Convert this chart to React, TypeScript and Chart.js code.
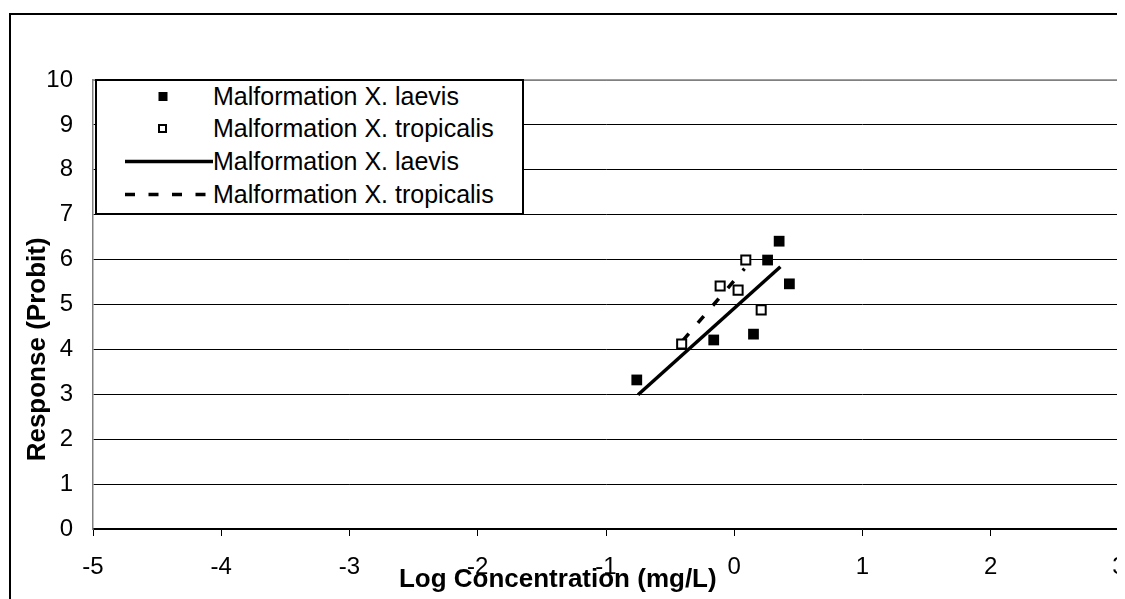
import React, { useEffect, useRef } from 'react';
import { Chart, registerables } from 'chart.js';
Chart.register(...registerables);

// Observed points
const laevisX = [-0.76, -0.16, 0.15, 0.26, 0.35, 0.43];
const laevisY = [3.32, 4.21, 4.34, 5.99, 6.41, 5.46];
const tropX = [-0.41, -0.11, 0.03, 0.09, 0.21];
const tropY = [4.12, 5.41, 5.32, 5.99, 4.88];
// Fitted probit lines (end points)
const laevisFitX = [-0.75, 0.36];
const laevisFitY = [2.99, 5.84];
const tropFitX = [-0.4, 0.08];
const tropFitY = [4.2, 5.8];

const seriesLabels = [
  'Malformation X. laevis',
  'Malformation X. tropicalis',
  'Malformation X. laevis',
  'Malformation X. tropicalis',
];
const xTitle = 'Log Concentration (mg/L)';
const yTitle = 'Response (Probit)';
const xRange = [-5, 3];
const yRange = [0, 10];

const FONT = '"Liberation Sans", Arial, sans-serif';

const pts = (xs: number[], ys: number[]) => xs.map((x, i) => ({ x, y: ys[i] }));

export default function App() {
  const ref = useRef<HTMLCanvasElement>(null);

  useEffect(() => {
    if (!ref.current) return;
    const framePlugin = {
      id: 'frame',
      beforeDatasetsDraw(chart: any) {
        const { ctx, chartArea: a } = chart;
        ctx.save();
        ctx.strokeStyle = '#808080';
        ctx.lineWidth = 1.5;
        ctx.beginPath();
        ctx.moveTo(a.left, a.top);
        ctx.lineTo(a.right, a.top);
        ctx.lineTo(a.right, a.bottom);
        ctx.stroke();
        ctx.restore();
      },
      afterDraw(chart: any) {
        const { ctx, chartArea: a } = chart;
        ctx.save();
        ctx.fillStyle = '#000';
        ctx.font = `bold 26px ${FONT}`;
        ctx.textAlign = 'center';
        ctx.textBaseline = 'middle';
        ctx.fillText(xTitle, a.left + 0.453 * (a.right - a.left), a.bottom + 51);
        ctx.translate(27, a.top + 0.6 * (a.bottom - a.top));
        ctx.rotate(-Math.PI / 2);
        ctx.fillText(yTitle, 0, 0);
        ctx.restore();
      },
    };

    const chart = new Chart(ref.current, {
      type: 'scatter',
      data: {
        datasets: [
          {
            label: seriesLabels[0],
            data: pts(laevisX, laevisY),
            pointStyle: 'rect',
            pointRadius: 7.6,
            backgroundColor: '#000',
            borderColor: '#000',
            borderWidth: 0,
            showLine: false,
            order: 0,
          },
          {
            label: seriesLabels[1],
            data: pts(tropX, tropY),
            pointStyle: 'rect',
            pointRadius: 6.4,
            backgroundColor: '#fff',
            borderColor: '#000',
            borderWidth: 2,
            showLine: false,
            order: 0,
          },
          {
            label: seriesLabels[2],
            data: pts(laevisFitX, laevisFitY),
            showLine: true,
            pointRadius: 0,
            borderColor: '#000',
            borderWidth: 3.5,
            order: 1,
          },
          {
            label: seriesLabels[3],
            data: pts(tropFitX, tropFitY),
            showLine: true,
            pointRadius: 0,
            borderColor: '#000',
            borderWidth: 3.5,
            borderDash: [9, 14],
            order: 1,
          },
        ],
      } as any,
      options: {
        animation: false,
        responsive: false,
        events: [],
        layout: { padding: { top: 65, right: 42, left: 0, bottom: 0 } },
        plugins: { legend: { display: false }, tooltip: { enabled: false } },
        scales: {
          x: {
            type: 'linear',
            min: xRange[0],
            max: xRange[1],
            ticks: {
              stepSize: 1,
              color: '#000',
              font: { family: FONT, size: 24 },
              padding: 17,
              maxRotation: 0,
              autoSkip: false,
            },
            grid: { drawOnChartArea: false, drawTicks: true, tickLength: 7, color: '#000' },
            border: { color: '#000', width: 1.5 },
            afterFit(s: any) {
              s.height = 106;
            },
          },
          y: {
            type: 'linear',
            min: yRange[0],
            max: yRange[1],
            ticks: {
              stepSize: 1,
              color: '#000',
              font: { family: FONT, size: 24 },
              padding: 20,
            },
            grid: {
              color: (c: any) => (c.tick && c.tick.value === yRange[1] ? '#808080' : '#000'),
              drawTicks: false,
              lineWidth: 1,
            },
            border: { color: '#808080', width: 1.5 },
            afterFit(s: any) {
              s.width = 82;
            },
          },
        },
      } as any,
      plugins: [framePlugin],
    });
    return () => chart.destroy();
  }, []);

  const kinds = ['filled', 'open', 'solid', 'dashed'];

  return (
    <div style={{ position: 'relative', width: 1117, height: 591, overflow: 'hidden' }}>
      <div
        style={{
          position: 'absolute',
          left: 1,
          top: 5,
          width: 1200,
          height: 700,
          borderLeft: '2px solid #000',
          borderTop: '2px solid #000',
          background: '#fff',
        }}
      >
        <canvas ref={ref} width={1150} height={620} style={{ display: 'block', width: 1150, height: 620 }} />
      </div>
      <div
        style={{
          position: 'absolute',
          left: 87,
          top: 71,
          width: 429,
          height: 136,
          border: '2px solid #000',
          background: '#fff',
          boxSizing: 'border-box',
          fontFamily: FONT,
          fontSize: 25,
          color: '#000',
        }}
      >
        {seriesLabels.map((lab, i) => (
          <div key={i} style={{ position: 'absolute', left: 0, top: -1.5 + i * 32.7, height: 33, width: '100%' }}>
            <svg style={{ position: 'absolute', left: 28, top: 0 }} width={90} height={33}>
              {kinds[i] === 'filled' && <rect x={33.5} y={12} width={9} height={9} fill="#000" />}
              {kinds[i] === 'open' && (
                <rect x={34} y={13} width={7} height={7} fill="#fff" stroke="#000" strokeWidth={2} />
              )}
              {kinds[i] === 'solid' && <line x1={0} x2={88} y1={16.5} y2={16.5} stroke="#000" strokeWidth={3.5} />}
              {kinds[i] === 'dashed' && (
                <line x1={0} x2={88} y1={16.5} y2={16.5} stroke="#000" strokeWidth={3.5} strokeDasharray="10 13.5" />
              )}
            </svg>
            <span style={{ position: 'absolute', left: 116, top: 0, lineHeight: '33px', whiteSpace: 'nowrap' }}>
              {lab}
            </span>
          </div>
        ))}
      </div>
    </div>
  );
}
